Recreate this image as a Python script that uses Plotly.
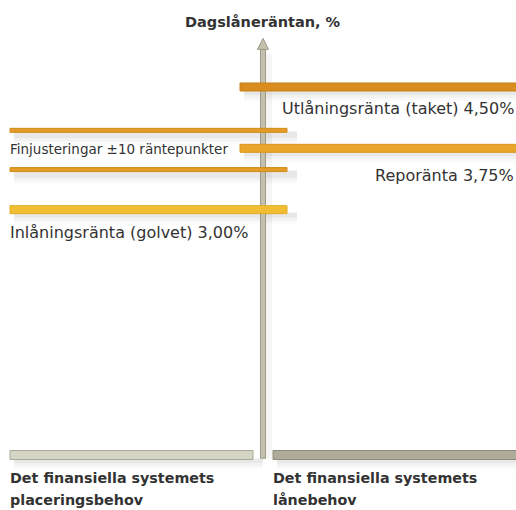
import plotly.graph_objects as go

# Räntekorridoren (schematisk bild), värden i procent
rate_names = ["Utlåningsränta (taket) 4,50%", "Reporänta 3,75%", "Inlåningsränta (golvet) 3,00%"]
rate_values = [4.50, 3.75, 3.00]
rate_colors = ["#D98D1F", "#E9A62C", "#F1BE33"]

fine_tune_label = "Finjusteringar ±10 räntepunkter"
fine_tune_levels = [3.97, 3.49]  # som de är ritade i figuren (överdrivet avstånd)

title_text = "Dagslåneräntan, %"
need_labels = [["Det finansiella systemets", "placeringsbehov"],
               ["Det finansiella systemets", "lånebehov"]]

FONT = "DejaVu Sans"
TXT = "#333333"

fig = go.Figure()
# osynlig trace så att axlarna ritas upp
fig.add_trace(go.Scatter(x=[0, 516], y=[0, 0], mode="markers",
                         marker=dict(opacity=0), hoverinfo="skip", showlegend=False))

shapes = []


def bar(x0, x1, level, fill, edge, h=4, shadow=True):
    if shadow:
        for off, a in [(14, 0.02), (11, 0.03), (8, 0.04)]:
            shapes.append(dict(type="rect", xref="x", yref="y", ysizemode="pixel",
                               yanchor=level, x0=x0 + 4, x1=x1 + 10, y0=-off, y1=-h + 1,
                               fillcolor="rgba(0,0,0,%s)" % a, line=dict(width=0),
                               layer="below"))
    shapes.append(dict(type="rect", xref="x", yref="y", ysizemode="pixel",
                       yanchor=level, x0=x0, x1=x1, y0=-h, y1=h,
                       fillcolor=fill, line=dict(color=edge, width=1)))


# vertikal axel med pil
shapes.append(dict(type="rect", xref="x", yref="y", x0=264, x1=272, y0=-0.05, y1=4.9,
                   fillcolor="rgba(0,0,0,0.04)", line=dict(width=0), layer="below"))
shapes.append(dict(type="rect", xref="x", yref="y", xsizemode="pixel", xanchor=263,
                   x0=-2.5, x1=2.5, y0=-0.04, y1=4.96,
                   fillcolor="#C4C0AE", line=dict(color="#9E9A88", width=1)))
shapes.append(dict(type="path", xref="x", yref="y", xsizemode="pixel", ysizemode="pixel",
                   xanchor=263, yanchor=4.96, path="M -5.5 0 L 5.5 0 L 0 11 Z",
                   fillcolor="#C4C0AE", line=dict(color="#9E9A88", width=1)))

# taket och reporäntan till höger, golvet till vänster
bar(240, 520, rate_values[0], rate_colors[0], "#C97F15")
bar(240, 520, rate_values[1], rate_colors[1], "#D9961F")
bar(10, 287, rate_values[2], rate_colors[2], "#E0AC25")
for lv in fine_tune_levels:
    bar(10, 287, lv, "#E39C26", "#D08C1C", h=2)

# placerings- och lånebehov
bar(10, 253, 0, "#D5D5C6", "#A9A997", h=4.5)
bar(273, 520, 0, "#AEAB9B", "#8F8C7B", h=4.5)

annotations = [
    dict(text=title_text, x=263, y=1 - 22 / 510, xref="x", yref="paper", yanchor="middle",
         showarrow=False, font=dict(family=FONT, size=14.5, color=TXT, weight="bold")),
    dict(text=rate_names[0], x=516, y=rate_values[0], yshift=-22, xanchor="right",
         yanchor="middle", showarrow=False, font=dict(family=FONT, size=16, color=TXT)),
    dict(text=rate_names[1], x=516, y=rate_values[1], yshift=-27, xanchor="right",
         yanchor="middle", showarrow=False, font=dict(family=FONT, size=16, color=TXT)),
    dict(text=rate_names[2], x=8, y=rate_values[2], yshift=-23, xanchor="left",
         yanchor="middle", showarrow=False, font=dict(family=FONT, size=16, color=TXT)),
    dict(text=fine_tune_label, x=8, y=rate_values[1], yshift=-1, xanchor="left",
         yanchor="middle", showarrow=False, font=dict(family=FONT, size=13.5, color=TXT)),
]
for x0, lines in zip([8, 271], need_labels):
    for i, line in enumerate(lines):
        annotations.append(dict(text=line, x=x0, y=1 - (478 + 22 * i) / 510,
                                xref="x", yref="paper", xanchor="left", yanchor="middle",
                                showarrow=False,
                                font=dict(family=FONT, size=14.3, color=TXT, weight="bold")))

fig.update_layout(
    width=516, height=510,
    margin=dict(l=0, r=0, t=0, b=0),
    paper_bgcolor="white", plot_bgcolor="white",
    xaxis=dict(range=[0, 516], visible=False, fixedrange=True),
    yaxis=dict(range=[-55 / 81.78, 455 / 81.78], visible=False, fixedrange=True),
    shapes=shapes,
    annotations=annotations,
    showlegend=False,
)

fig.write_html("out.html", config={"displayModeBar": False},
               post_script="document.body.style.margin='0';")
